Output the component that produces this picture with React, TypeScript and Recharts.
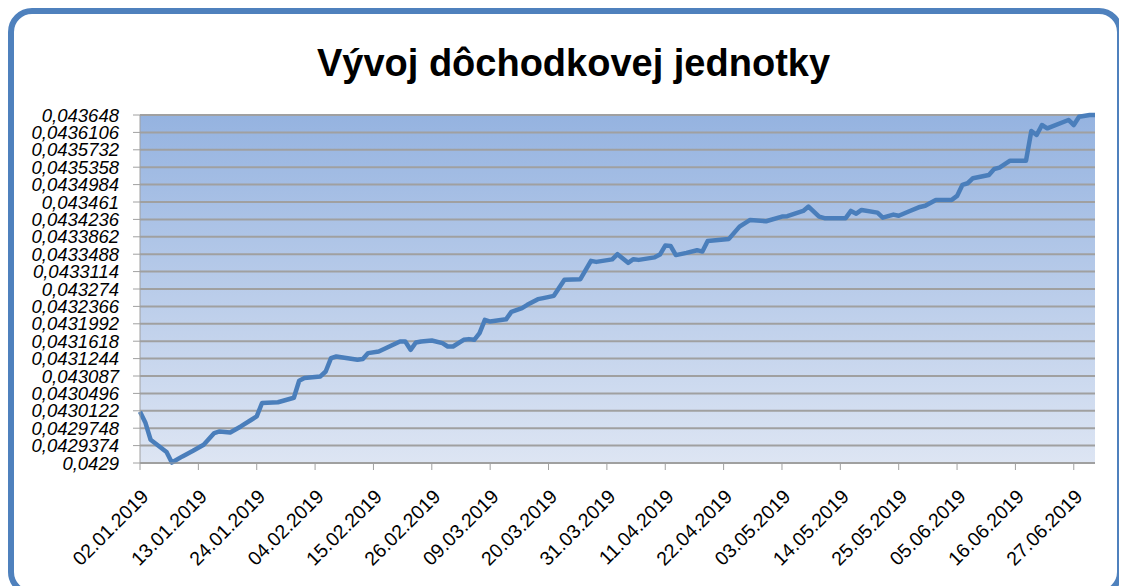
import { CartesianGrid, Line, LineChart, XAxis, YAxis } from "recharts";

const dates = [
  "02.01.2019", "03.01.2019", "04.01.2019", "07.01.2019", "08.01.2019", "10.01.2019",
  "12.01.2019", "14.01.2019", "16.01.2019", "17.01.2019", "19.01.2019", "21.01.2019",
  "23.01.2019", "24.01.2019", "25.01.2019", "28.01.2019", "31.01.2019", "01.02.2019",
  "02.02.2019", "05.02.2019", "06.02.2019", "07.02.2019", "08.02.2019", "12.02.2019",
  "13.02.2019", "14.02.2019", "16.02.2019", "18.02.2019", "20.02.2019", "21.02.2019",
  "22.02.2019", "23.02.2019", "24.02.2019", "26.02.2019", "28.02.2019", "01.03.2019",
  "02.03.2019", "04.03.2019", "05.03.2019", "06.03.2019", "07.03.2019", "08.03.2019",
  "09.03.2019", "12.03.2019", "13.03.2019", "15.03.2019", "16.03.2019", "18.03.2019",
  "19.03.2019", "21.03.2019", "23.03.2019", "26.03.2019", "28.03.2019", "29.03.2019",
  "01.04.2019", "02.04.2019", "04.04.2019", "05.04.2019", "06.04.2019", "09.04.2019",
  "10.04.2019", "11.04.2019", "12.04.2019", "13.04.2019", "15.04.2019", "17.04.2019",
  "18.04.2019", "19.04.2019", "23.04.2019", "25.04.2019", "27.04.2019", "30.04.2019",
  "03.05.2019", "04.05.2019", "07.05.2019", "08.05.2019", "10.05.2019", "11.05.2019",
  "15.05.2019", "16.05.2019", "17.05.2019", "18.05.2019", "21.05.2019", "22.05.2019",
  "24.05.2019", "25.05.2019", "27.05.2019", "29.05.2019", "30.05.2019", "01.06.2019",
  "04.06.2019", "05.06.2019", "06.06.2019", "07.06.2019", "08.06.2019", "11.06.2019",
  "12.06.2019", "13.06.2019", "15.06.2019", "18.06.2019", "19.06.2019", "20.06.2019",
  "21.06.2019", "22.06.2019", "26.06.2019", "27.06.2019", "28.06.2019", "30.06.2019",
  "01.07.2019",
];

const unitValues = [
  0.043010, 0.0429872, 0.04295, 0.0429236, 0.042901, 0.0429142,
  0.0429264, 0.0429393, 0.0429644, 0.0429679, 0.0429657, 0.0429786,
  0.042993, 0.0430001, 0.0430289, 0.0430306, 0.0430402, 0.0430768,
  0.0430825, 0.043086, 0.0430967, 0.0431255, 0.0431289, 0.0431218,
  0.0431234, 0.0431362, 0.0431397, 0.0431504, 0.0431611, 0.0431611,
  0.0431433, 0.043159, 0.0431611, 0.0431633, 0.0431577, 0.0431504,
  0.0431504, 0.0431648, 0.0431663, 0.0431648, 0.0431792, 0.0432078,
  0.0432041, 0.0432088, 0.0432249, 0.0432329, 0.04324, 0.0432522,
  0.0432544, 0.0432593, 0.0432937, 0.0432952, 0.0433345, 0.0433323,
  0.0433377, 0.0433488, 0.0433302, 0.0433381, 0.0433366, 0.043342,
  0.043348, 0.0433673, 0.0433667, 0.0433469, 0.0433516, 0.0433574,
  0.0433544, 0.0433774, 0.0433817, 0.0434081, 0.0434225, 0.0434197,
  0.0434296, 0.0434305, 0.0434418, 0.0434511, 0.0434296, 0.0434262,
  0.0434262, 0.0434418, 0.043436, 0.043444, 0.0434382, 0.0434274,
  0.0434339, 0.0434315, 0.0434412, 0.0434504, 0.043453, 0.0434655,
  0.0434655, 0.0434741, 0.0434977, 0.0435013, 0.0435121, 0.0435192,
  0.043532, 0.0435348, 0.0435499, 0.0435499, 0.0436136, 0.0436051,
  0.0436265, 0.0436194, 0.0436373, 0.0436265, 0.0436444, 0.043648,
  0.043648,
];

const xTickDates = [
  "02.01.2019", "13.01.2019", "24.01.2019", "04.02.2019", "15.02.2019", "26.02.2019",
  "09.03.2019", "20.03.2019", "31.03.2019", "11.04.2019", "22.04.2019", "03.05.2019",
  "14.05.2019", "25.05.2019", "05.06.2019", "16.06.2019", "27.06.2019",
];

const yTicks = [
  0.0429, 0.0429374, 0.0429748, 0.0430122, 0.0430496, 0.043087, 0.0431244,
  0.0431618, 0.0431992, 0.0432366, 0.043274, 0.0433114, 0.0433488, 0.0433862,
  0.0434236, 0.043461, 0.0434984, 0.0435358, 0.0435732, 0.0436106, 0.043648,
];

const toTime = (s: string) => {
  const [d, m, y] = s.split(".").map(Number);
  return Date.UTC(y, m - 1, d);
};

const pad = (n: number) => (n < 10 ? "0" + n : "" + n);

const formatDate = (t: number) => {
  const dt = new Date(t);
  return `${pad(dt.getUTCDate())}.${pad(dt.getUTCMonth() + 1)}.${dt.getUTCFullYear()}`;
};

const data = dates.map((d, i) => ({ t: toTime(d), value: unitValues[i] }));

const axisGray = "#A0A0A0";
const font = "'Liberation Sans', Arial, sans-serif";

export default function App() {
  return (
    <div style={{ position: "relative", width: 1119, height: 578, overflow: "hidden" }}>
      <div
        style={{
          position: "absolute",
          left: 0,
          top: 0,
          width: 1115,
          height: 588,
          border: "6px solid #4F81BD",
          borderRadius: 24,
          boxSizing: "border-box",
          background: "#fff",
        }}
      />
      <div
        style={{
          position: "absolute",
          left: 0,
          top: 36,
          width: 1131,
          textAlign: "center",
          fontFamily: font,
          fontWeight: "bold",
          fontSize: 38,
          lineHeight: "38px",
          color: "#000",
        }}
      >
        Vývoj dôchodkovej jednotky
      </div>
      <div style={{ position: "absolute", left: 0, top: 0 }}>
        <LineChart
          width={1119}
          height={578}
          data={data}
          margin={{ top: 107, right: 32, left: 0, bottom: 12 }}
        >
          <defs>
            <linearGradient id="plotFill" x1="0" y1="0" x2="0" y2="1">
              <stop offset="0%" stopColor="#95B3E0" />
              <stop offset="100%" stopColor="#DDE5F3" />
            </linearGradient>
          </defs>
          <CartesianGrid
            vertical={false}
            stroke={axisGray}
            strokeWidth={2}
            fill="url(#plotFill)"
            fillOpacity={1}
          />
          <XAxis
            dataKey="t"
            type="number"
            domain={[toTime(dates[0]), toTime(dates[dates.length - 1])]}
            ticks={xTickDates.map(toTime)}
            tickFormatter={formatDate}
            interval={0}
            angle={-45}
            height={111}
            tickSize={7}
            tickMargin={18}
            stroke={axisGray}
            tick={{ fontSize: 19.5, fill: "#000", fontFamily: font, textAnchor: "end" }}
          />
          <YAxis
            dataKey="value"
            type="number"
            domain={[0.0429, 0.043648]}
            ticks={yTicks}
            interval={0}
            width={132}
            tickSize={7}
            tickMargin={14}
            stroke={axisGray}
            tickFormatter={(v: number) => String(v).replace(".", ",")}
            tick={{ fontSize: 18.5, fill: "#000", fontFamily: font, fontStyle: "italic" }}
          />
          <Line
            dataKey="value"
            type="linear"
            stroke="#4A7EBB"
            strokeWidth={4.5}
            strokeLinejoin="round"
            dot={false}
            isAnimationActive={false}
          />
        </LineChart>
      </div>
    </div>
  );
}
